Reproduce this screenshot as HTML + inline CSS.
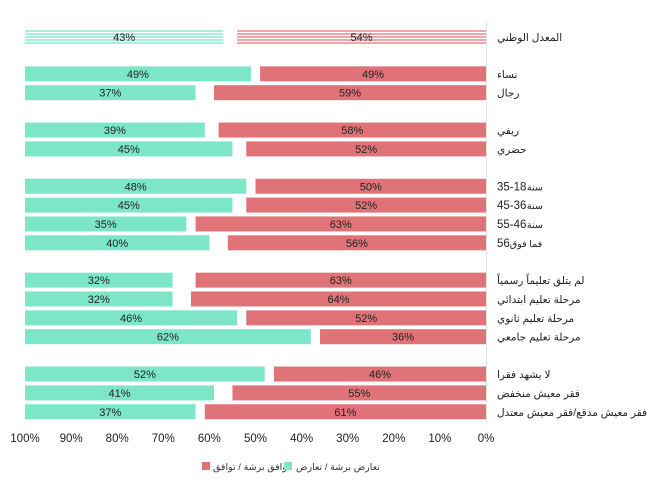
<!DOCTYPE html>
<html><head><meta charset="utf-8">
<style>
body{margin:0;background:#fff;}
svg text{font-family:"Liberation Sans","DejaVu Sans",sans-serif;}
</style></head>
<body>
<svg id="chart" width="660" height="476" viewBox="0 0 660 476" xmlns="http://www.w3.org/2000/svg">
<defs>
<pattern id="hatchG" width="4" height="3" patternUnits="userSpaceOnUse"><rect width="4" height="3" fill="#fff"/><rect width="4" height="2" fill="#a8f0da"/></pattern>
<pattern id="hatchR" width="4" height="3" patternUnits="userSpaceOnUse"><rect width="4" height="3" fill="#fff"/><rect width="4" height="2" fill="#f0a7aa"/></pattern>
</defs>
<line x1="486.5" y1="22" x2="486.5" y2="425" stroke="#e4e4e4" stroke-width="1"/>
<g id="bars"></g>
<g id="ticks"></g>
<g>
<rect x="202" y="462" width="8" height="8" fill="#e07378"/>
<text x="213" y="470" font-size="9.5" fill="#333" text-anchor="start">توافق برشة / توافق</text>
<rect x="284" y="462" width="8" height="8" fill="#7de6c8"/>
<text x="296" y="470" font-size="9.5" fill="#333" text-anchor="start">تعارض برشة / تعارض</text>
</g>
</svg>
<script>
const categories = ["المعدل الوطني","نساء","رجال","ريفي","حضري","35-18|سنة","45-36|سنة","55-46|سنة","56 |فما فوق","لم يتلق تعليماً رسمياً","مرحلة تعليم ابتدائي","مرحلة تعليم ثانوي","مرحلة تعليم جامعي","لا يشهد فقرا","فقر معيش منخفض","فقر معيش مدقع/فقر معيش معتدل"];
const disagree = [43,49,37,39,45,48,45,35,40,32,32,46,62,52,41,37];
const agree = [54,49,59,58,52,50,52,63,56,63,64,52,36,46,55,61];
const groups = [0,1,1,2,2,3,3,3,3,4,4,4,4,5,5,5];
const tickLabels = ["100%","90%","80%","70%","60%","50%","40%","30%","20%","10%","0%"];

const NS="http://www.w3.org/2000/svg";
const x0=486, x100=25, k=(x0-x100)/100;
function yc(i){ return 37 + i*18.85 + groups[i]*18.5 - (groups[i]>0?0.5:0); }
function el(tag,attrs,parent){const e=document.createElementNS(NS,tag);for(const a in attrs)e.setAttribute(a,attrs[a]);parent.appendChild(e);return e;}
const bars=document.getElementById('bars');
categories.forEach((c,i)=>{
  const y=yc(i), h=15, nat=i===0;
  const gw=disagree[i]*k;
  const g=el('rect',{x:x100,y:y-h/2,width:gw,height:h,fill:nat?'url(#hatchG)':'#7de6c8'},bars);
  
  
  const rw=agree[i]*k;
  const r=el('rect',{x:x0-rw,y:y-h/2,width:rw,height:h,fill:nat?'url(#hatchR)':'#e07378'},bars);
  
  
  const t1=el('text',{x:x100+gw/2,y:y+4,'font-size':11,'text-anchor':'middle',fill:'#222'},bars);
  t1.textContent=disagree[i]+'%';
  
  
  const t2=el('text',{x:x0-rw/2,y:y+4,'font-size':11,'text-anchor':'middle',fill:'#222'},bars);
  t2.textContent=agree[i]+'%';
  
  
  const parts=c.split('|');
  let cx=497;
  if(parts.length>1){
    const n=el('text',{x:cx,y:y+4,'font-size':11.5,'text-anchor':'start',fill:'#222'},bars);
    n.textContent=parts[0];
    
    
    cx+=n.getComputedTextLength()+(parts[0].endsWith(' ')?0:0.5);
  }
  const cl=el('text',{x:cx,y:y+4,'font-size':parts.length>1?9.5:10.5,'text-anchor':'start',fill:'#222'},bars);
  cl.textContent=parts[parts.length-1];
  
  
});
const ticks=document.getElementById('ticks');
tickLabels.forEach((t,i)=>{
  const v=100-i*10;
  const tx=el('text',{x:x0-v*k,y:442,'font-size':11.5,'text-anchor':'middle',fill:'#222'},ticks);
  tx.textContent=t;
  
  
});
</script>
</body></html>
